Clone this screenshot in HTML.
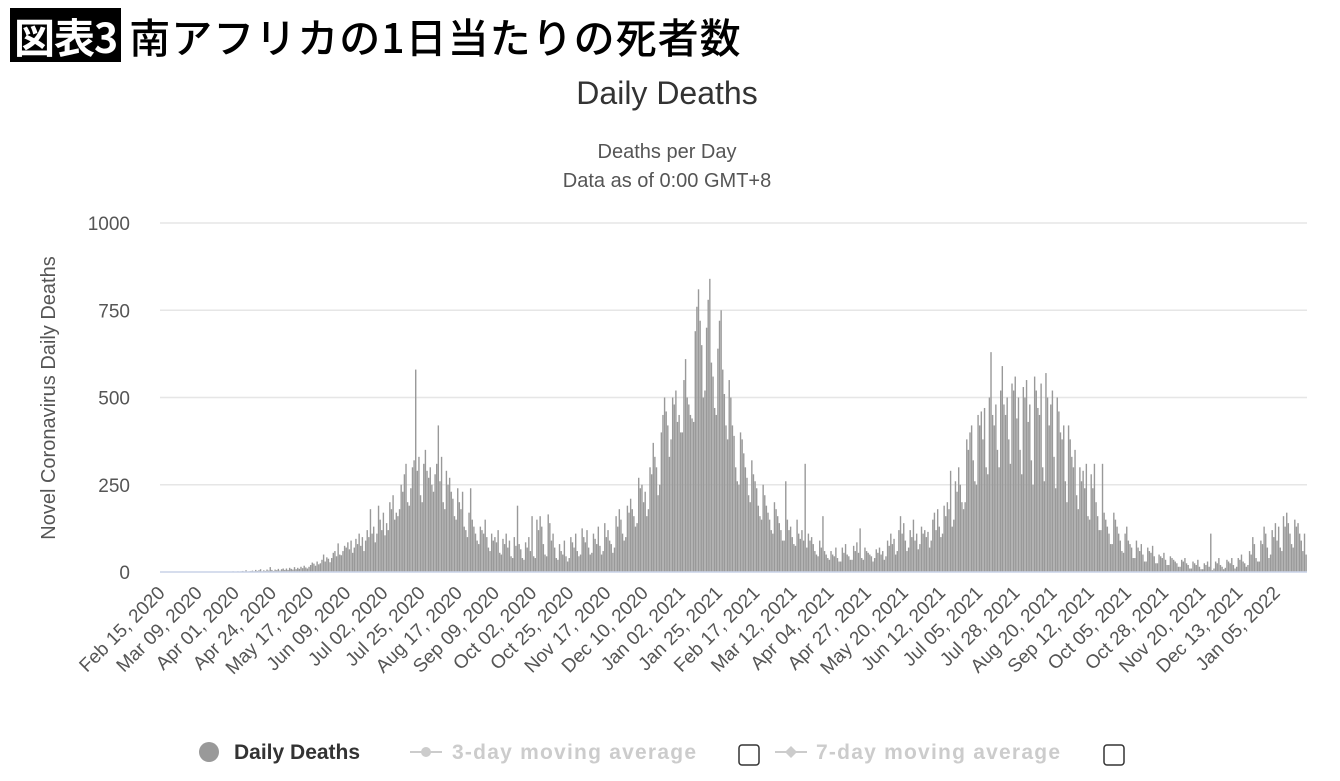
<!DOCTYPE html>
<html><head><meta charset="utf-8">
<style>
body{margin:0;background:#fff;width:1340px;height:781px;overflow:hidden;font-family:"Liberation Sans","Noto Sans CJK JP",sans-serif;}
#hdr{position:absolute;left:10px;top:8px;height:54px;display:flex;align-items:center;}
#tag{background:#000;color:#fff;font-size:41px;font-weight:bold;padding:0 4px;height:54px;line-height:54px;font-family:"Noto Sans CJK JP",sans-serif;letter-spacing:-1px;}
#ttl{font-size:41px;margin-left:8px;font-family:"Noto Sans CJK JP",sans-serif;color:#000;font-weight:500;letter-spacing:1px;}
svg{position:absolute;left:0;top:0;}
</style></head><body>
<div id="hdr"><span id="tag">図表3</span><span id="ttl">南アフリカの1日当たりの死者数</span></div>
<svg id="c" width="1340" height="781"></svg>
<script>
const startDate = "2020-02-15";
const yTicks = [0,250,500,750,1000];
const xTickLabels = ["Feb 15, 2020","Mar 09, 2020","Apr 01, 2020","Apr 24, 2020","May 17, 2020","Jun 09, 2020","Jul 02, 2020","Jul 25, 2020","Aug 17, 2020","Sep 09, 2020","Oct 02, 2020","Oct 25, 2020","Nov 17, 2020","Dec 10, 2020","Jan 02, 2021","Jan 25, 2021","Feb 17, 2021","Mar 12, 2021","Apr 04, 2021","Apr 27, 2021","May 20, 2021","Jun 12, 2021","Jul 05, 2021","Jul 28, 2021","Aug 20, 2021","Sep 12, 2021","Oct 05, 2021","Oct 28, 2021","Nov 20, 2021","Dec 13, 2021","Jan 05, 2022"];
const xTickStep = 23;
const dailyDeaths = [
0,0,0,0,0,0,0, 0,0,0,0,0,0,0, 0,0,0,0,0,0,0, 0,0,0,0,0,0,0, 0,0,0,0,0,0,0,
0,0,0,0,0,0,1, 1,0,2,0,1,2,1, 2,3,1,5,0,2,3, 4,2,6,3,5,8,2, 5,3,7,4,14,6,3,
7,5,9,4,8,10,6, 10,6,12,9,7,14,8, 12,9,15,11,18,13,10, 15,20,27,24,18,30,22,
25,35,50,30,42,38,28, 40,55,60,45,82,50,48, 60,75,70,85,65,90,55, 70,95,80,110,75,100,60,
90,120,100,180,110,130,85, 110,190,150,120,170,105,140, 120,200,180,220,150,170,160,
180,250,230,280,310,200,190, 240,300,320,580,290,330,220, 200,310,350,290,270,300,250,
230,280,310,420,260,330,200, 180,290,250,270,230,210,160, 150,240,200,180,230,130,120,
100,170,240,150,130,110,90, 80,130,120,110,150,100,70, 60,110,90,100,85,120,55,
50,95,80,110,70,90,45, 40,100,75,190,80,65,40, 35,85,70,100,60,160,45,
40,150,120,160,130,80,50, 45,165,140,90,110,70,40, 35,80,60,50,90,45,30,
40,100,85,70,110,60,45, 50,125,100,85,120,70,50, 55,110,95,80,130,75,50,
60,140,100,120,90,80,55, 70,160,130,180,150,110,90, 100,190,170,210,180,160,130,
140,270,240,250,200,230,160, 180,300,280,370,330,300,220, 250,400,450,500,460,420,330,
380,500,480,520,430,450,400, 400,550,610,500,480,450,440, 430,690,760,810,720,650,500,
520,700,780,840,600,560,470, 450,640,720,750,580,510,420, 380,550,500,420,390,300,260,
250,400,380,340,300,270,220, 200,320,280,260,240,190,160, 150,250,220,190,170,150,120,
110,200,180,160,140,120,90, 90,260,150,120,130,100,80, 75,150,110,95,120,90,310,
70,110,90,100,80,60,50, 45,90,70,160,60,50,40, 35,60,50,45,70,40,30,
30,70,55,80,50,45,35, 35,75,60,85,55,125,40, 35,70,60,55,50,45,30,
40,65,55,70,50,60,35, 45,90,75,110,80,95,50, 60,120,160,110,140,90,60,
70,120,100,150,90,110,65, 80,130,110,120,100,115,70, 90,150,170,120,180,130,100,
110,190,160,200,180,290,130, 150,260,230,300,250,200,180, 200,380,350,400,420,320,260,
250,450,420,460,380,470,300, 280,500,630,450,420,480,350, 300,520,590,480,450,500,380,
310,540,520,560,440,500,350, 280,530,500,550,430,480,320, 250,560,520,470,450,540,300,
260,570,500,420,480,520,330, 240,500,460,400,380,420,260, 200,420,380,330,300,350,220,
180,300,260,290,240,310,160, 150,280,240,310,200,160,120, 120,310,170,150,130,110,80,
80,170,150,130,110,90,60, 55,110,130,90,80,70,40, 40,90,70,60,80,50,30,
30,70,60,55,75,45,25, 25,50,45,40,55,35,20, 20,45,40,35,30,25,15,
15,35,30,40,25,20,10, 10,30,25,20,35,15,8, 8,25,20,30,15,110,5,
10,30,25,40,20,15,8, 12,35,30,25,40,20,10, 15,40,35,50,30,25,15,
20,60,50,100,80,40,30, 30,90,80,130,110,70,40, 50,120,100,140,90,130,70,
60,160,130,170,140,110,80, 70,150,130,140,110,90,60, 110,50
];

const NS="http://www.w3.org/2000/svg";
const svg=document.getElementById('c');
const L=162, R=1307, T=223, B=572, DPX=1.616;
const xs=d=>L+d*DPX;
const ys=v=>B-(v/1000)*(B-T);
function mk(tag,attrs,parent){const e=document.createElementNS(NS,tag);for(const k in attrs)e.setAttribute(k,attrs[k]);(parent||svg).appendChild(e);return e;}
function txt(s,attrs,parent){const e=mk('text',attrs,parent);e.textContent=s;return e;}

let t=txt("Daily Deaths",{x:667,y:104,'text-anchor':'middle','font-size':32,fill:'#333'});


t=txt("Deaths per Day",{x:667,y:158,'text-anchor':'middle','font-size':20,fill:'#555'});


t=txt("Data as of 0:00 GMT+8",{x:667,y:187,'text-anchor':'middle','font-size':20,fill:'#555'});



yTicks.forEach(v=>{
  const g=mk('line',{x1:L-2,x2:R,y1:ys(v),y2:ys(v),stroke:'#e6e6e6','stroke-width':1.5});
  
  
  const l=txt(String(v),{x:130,y:ys(v)+7,'text-anchor':'end','font-size':19,fill:'#555'});
  
  
});
t=txt("Novel Coronavirus Daily Deaths",{x:0,y:0,'text-anchor':'middle','font-size':20,fill:'#555',transform:'translate(55,398) rotate(-90)'});



const bars=mk('g',{});


dailyDeaths.forEach((v,i)=>{
  if(v<=0)return;
  const r=mk('rect',{x:xs(i)-0.7,y:ys(v),width:1.4,height:B-ys(v),fill:'#999'},bars);
  
  
});
const ax=mk('line',{x1:L-2,x2:R,y1:B,y2:B,stroke:'#ccd6eb','stroke-width':1.5});



xTickLabels.forEach((s,i)=>{
  const x=xs(i*xTickStep);
  const l=txt(s,{x:0,y:0,'text-anchor':'end','font-size':19,fill:'#555',transform:`translate(${x+4},${594}) rotate(-45)`});
  
  
});

const lg=mk('g',{});


let e=mk('circle',{cx:209,cy:752,r:10,fill:'#999'},lg);


e=txt("Daily Deaths",{x:234,y:759,'font-size':21,'font-weight':'bold',fill:'#333'},lg);


e=mk('line',{x1:410,x2:442,y1:752,y2:752,stroke:'#ccc','stroke-width':2},lg);


e=mk('circle',{cx:426,cy:752,r:5,fill:'#ccc'},lg);


e=txt("3-day moving average",{x:452,y:759,'font-size':21,'font-weight':'bold',fill:'#ccc',textLength:244},lg);


e=mk('rect',{x:739,y:745,width:20,height:20,rx:3,fill:'#fff',stroke:'#333','stroke-width':1.5},lg);


e=mk('line',{x1:775,x2:807,y1:752,y2:752,stroke:'#ccc','stroke-width':2},lg);


e=mk('path',{d:'M791 746 L797 752 L791 758 L785 752Z',fill:'#ccc'},lg);


e=txt("7-day moving average",{x:816,y:759,'font-size':21,'font-weight':'bold',fill:'#ccc',textLength:244},lg);


e=mk('rect',{x:1104,y:745,width:20,height:20,rx:3,fill:'#fff',stroke:'#333','stroke-width':1.5},lg);


</script>
</body></html>
